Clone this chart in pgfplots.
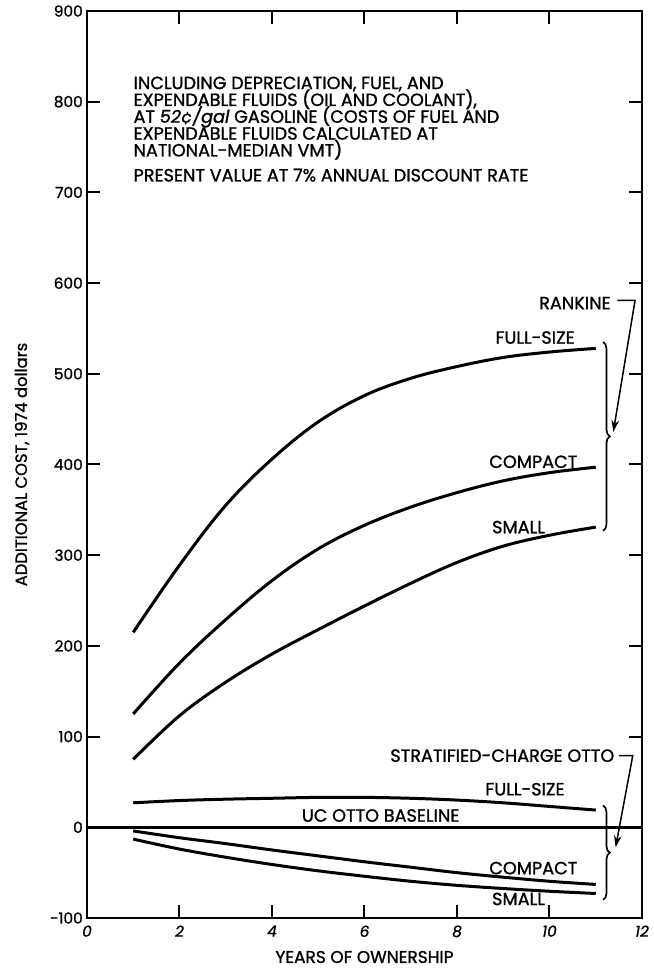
\documentclass[border=0pt]{standalone}
\usepackage{fontspec}
\setmainfont{Poppins}[FakeBold=1.2]
\usepackage{pgfplots}
\pgfplotsset{compat=1.18}
\usetikzlibrary{arrows.meta,decorations.pathreplacing}

\begin{document}
\begin{tikzpicture}[font=\fontsize{10.6}{10.2}\selectfont]
\begin{axis}[
  scale only axis, width=333pt, height=544.2pt,
  xmin=0, xmax=12, ymin=-100, ymax=900,
  xtick={0,2,4,6,8,10,12}, xticklabels={0,2,4,6,8,10,12},
  ytick={-100,0,100,200,300,400,500,600,700,800,900},
  yticklabels={-100,0,100,200,300,400,500,600,700,800,900},
  tick align=inside, major tick length=8pt,
  axis line style={line width=1.2pt},
  every tick/.style={line width=1.2pt, black},
  xticklabel style={font=\fontsize{9.2}{10}\selectfont\itshape, yshift=-1pt},
  yticklabel style={font=\fontsize{9.2}{10}\selectfont, xshift=1pt},
  xlabel={YEARS OF OWNERSHIP},
  ylabel={ADDITIONAL COST, 1974 dollars},
  xlabel style={font=\fontsize{10.2}{10}\selectfont, at={(axis description cs:0.5,-0.043)}, anchor=center},
  ylabel style={font=\fontsize{9.8}{10}\selectfont, at={(axis description cs:-0.117,0.5)}, anchor=center},
  clip=false,
  every axis plot post/.append style={black, solid, mark=none, line width=1.8pt, smooth, tension=0.6},
]
% Rankine full-size
\addplot coordinates {(1,215) (2,289) (3,355) (4,406) (5,447) (6,476) (7,495) (8,508) (9,518) (10,524) (11,528)};
% Rankine compact
\addplot coordinates {(1,125) (2,181) (3,229) (4,272) (5,307) (6,333) (7,353) (8,369) (9,382) (10,391) (11,397)};
% Rankine small
\addplot coordinates {(1,75) (2,123) (3,160) (4,191) (5,218) (6,244) (7,269) (8,292) (9,310) (10,322) (11,331)};
% Stratified-charge Otto full-size
\addplot coordinates {(1,27) (2,29.5) (3,31) (4,32) (5,33) (6,33) (7,32) (8,30) (9,27) (10,23) (11,19)};
% Stratified-charge Otto compact
\addplot coordinates {(1,-4) (2,-11.5) (3,-18) (4,-25) (5,-31.5) (6,-38) (7,-44) (8,-50) (9,-55) (10,-59.5) (11,-63)};
% Stratified-charge Otto small
\addplot coordinates {(1,-13) (2,-24) (3,-33) (4,-41) (5,-48) (6,-54) (7,-59.5) (8,-64) (9,-67.5) (10,-70.5) (11,-73)};
% UC Otto baseline
\addplot[line width=1.2pt] coordinates {(0,0) (12,0)};

\coordinate (SW) at (rel axis cs:0,0);
\coordinate (NE) at (rel axis cs:1,1);

\node[anchor=north west, align=left, inner sep=0pt,
      execute at begin node={\lineskiplimit=-20pt\baselineskip=10.1pt}] at (axis cs:1.0,828)
 {INCLUDING DEPRECIATION, FUEL, AND\\
  EXPENDABLE FLUIDS (OIL AND COOLANT),\\
  AT \textit{52¢/gal} GASOLINE (COSTS OF FUEL AND\\
  EXPENDABLE FLUIDS CALCULATED AT\\
  NATIONAL-MEDIAN VMT)};
\node[anchor=west, inner sep=0pt] at (axis cs:1.0,719) {PRESENT VALUE AT 7\% ANNUAL DISCOUNT RATE};

\node at (axis cs:10.55,578) {RANKINE};
\node at (axis cs:9.69,540) {FULL-SIZE};
\node at (axis cs:9.65,403) {COMPACT};
\node at (axis cs:9.33,331) {SMALL};

\node at (axis cs:8.98,79) {STRATIFIED-CHARGE OTTO};
\node at (axis cs:9.47,42) {FULL-SIZE};
\node at (axis cs:6.35,13) {UC OTTO BASELINE};
\node at (axis cs:9.65,-45) {COMPACT};
\node at (axis cs:9.33,-79) {SMALL};

\draw[line width=1pt, decorate, decoration={brace, amplitude=4pt}] (axis cs:11.16,535) -- (axis cs:11.16,327);
\draw[line width=1pt, decorate, decoration={brace, amplitude=4pt}] (axis cs:11.16,24) -- (axis cs:11.16,-80);

\draw[line width=0.9pt, -{Stealth[length=7pt,width=4.5pt]}] (axis cs:11.47,581) -- (axis cs:11.85,581) -- (axis cs:11.38,436);
\draw[line width=0.9pt, -{Stealth[length=7pt,width=4.5pt]}] (axis cs:11.5,79) -- (axis cs:11.8,79) -- (axis cs:11.43,-22);
\end{axis}
\pgfresetboundingbox
\path ([shift={(-52.2pt,-32.4pt)}]SW) rectangle ([shift={(7.2pt,6.6pt)}]NE);
\end{tikzpicture}
\end{document}
